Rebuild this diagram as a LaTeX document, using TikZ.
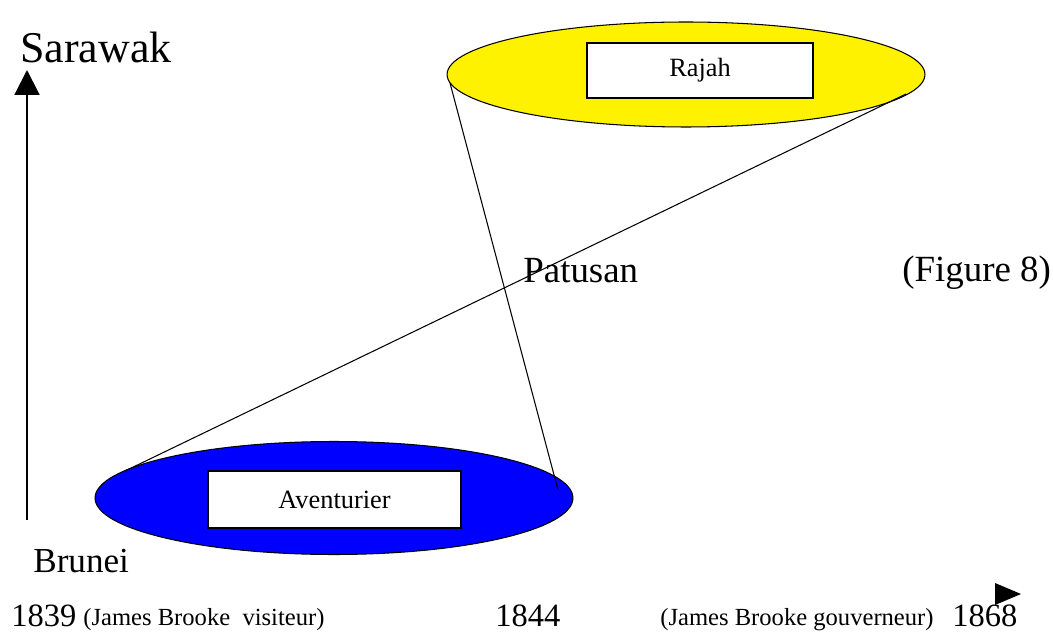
\documentclass[tikz,border=0pt]{standalone}
\usepackage{fontspec}
\setmainfont{Liberation Serif}
\usetikzlibrary{shapes.geometric,arrows.meta}
\tikzset{
  ell/.style={ellipse, draw=black, line width=0.6pt, inner sep=0pt},
  inbox/.style={rectangle, draw=black, line width=1.1pt, fill=white, inner sep=0pt, font=\fontsize{15}{18}\selectfont},
  lbl/.style={anchor=base west, inner sep=0pt},
  conn/.style={draw=black, line width=0.6pt},
}
\begin{document}
\begin{tikzpicture}[x=0.02cm,y=-0.02cm]
\useasboundingbox (0,0) rectangle (1053,634);
% ellipses
\node[ell, fill=yellow, minimum width=9.56cm, minimum height=2.1cm] (rajahEll) at (686,74.5) {};
\node[ell, fill=blue, minimum width=9.56cm, minimum height=2.26cm] (avEll) at (334,498) {};
\node[inbox, minimum width=4.52cm, minimum height=1.1cm] (rajah) at (700,70.5) {Rajah};
\node[inbox, minimum width=5.06cm, minimum height=1.14cm] (aven) at (334.5,499.5) {Aventurier};
% connector end points
\coordinate (c1a) at (450,83);
\coordinate (c1b) at (558,490);
\coordinate (c2a) at (906,94);
\coordinate (c2b) at (125,471);
\draw[conn] (c1a) -- (c1b);
\draw[conn] (c2a) -- (c2b);
% vertical axis
\coordinate (axBot) at (27,520);
\coordinate (axTop) at (27,70);
\draw[line width=1.2pt, -{Triangle[width=14.2pt,length=14.2pt]}] (axBot) -- (axTop);
% labels
\node[lbl, font=\fontsize{25}{30}\selectfont] (sarawak) at (20,63) {Sarawak};
\node[lbl, font=\fontsize{20}{24}\selectfont] (brunei) at (33,572) {Brunei};
\node[lbl, font=\fontsize{21}{25}\selectfont] (patusan) at (523,283) {Patusan};
\node[lbl, font=\fontsize{21}{25}\selectfont] (fig) at (902,282) {(Figure 8)};
\node[lbl, font=\fontsize{18.5}{22}\selectfont] (y1839) at (11,626) {1839};
\node[lbl, font=\fontsize{14}{17}\selectfont] (vis) at (83,625) {(James Brooke\ \ visiteur)};
\node[lbl, font=\fontsize{18.5}{22}\selectfont] (y1844) at (495,626) {1844};
\node[lbl, font=\fontsize{14}{17}\selectfont] (gouv) at (660,625) {(James Brooke gouverneur)};
\node[lbl, font=\fontsize{18.5}{22}\selectfont] (y1868) at (952,626) {1868};
% bottom-right arrow tip
\fill[black] (995,583) -- (1021,594) -- (995,605) -- cycle;
\end{tikzpicture}
\end{document}
